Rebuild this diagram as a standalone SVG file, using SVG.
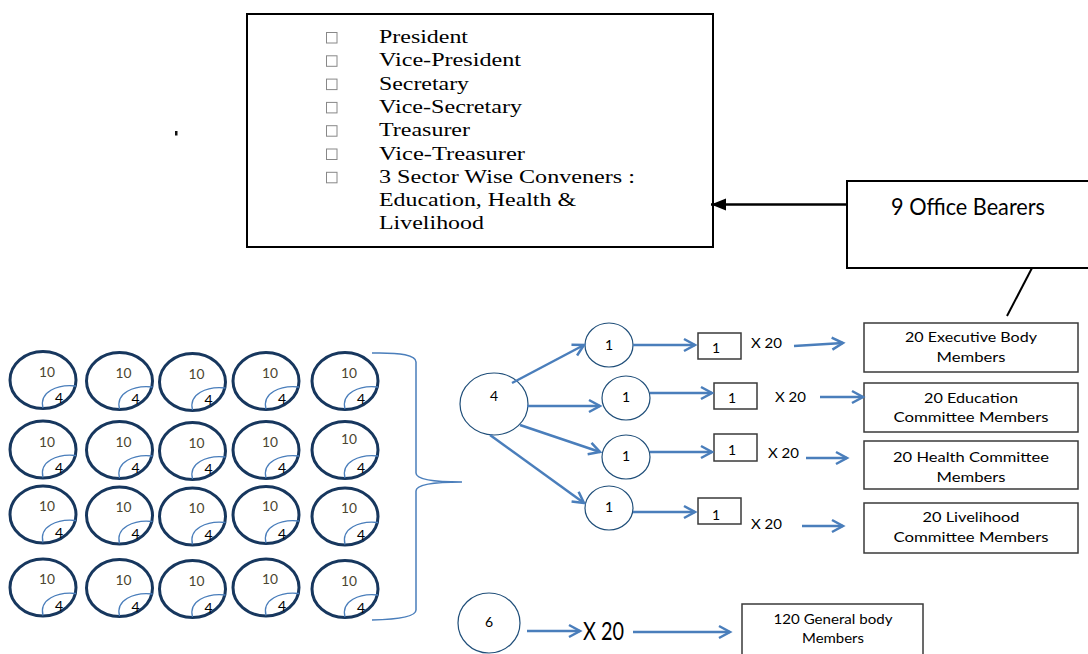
<svg xmlns="http://www.w3.org/2000/svg" xmlns:xlink="http://www.w3.org/1999/xlink" width="1088" height="654" viewBox="0 0 1088 654">
<style>
.serif{font-family:"Liberation Serif","Times New Roman",serif;font-size:19.5px;fill:#000}
.sans{font-family:Lato,"Liberation Sans",Arial,sans-serif;fill:#000}
.box{fill:#fff;stroke:#3a3a3a;stroke-width:1.5}
.bbox{fill:#fff;stroke:#000;stroke-width:2}
.cellc{fill:none;stroke:#17375e;stroke-width:3}
.cella{fill:none;stroke:#4a7ebb;stroke-width:1.3}
.node{fill:#fff;stroke:#1f4e79;stroke-width:1.2}
.blue{fill:none;stroke:#4a7ebb;stroke-width:2.5}
.bul{fill:none;stroke:#888;stroke-width:1}
.t10{font-family:Lato,"Liberation Sans",Arial,sans-serif;font-size:13.5px;fill:#4a4530;text-anchor:middle}
.t4{font-family:Lato,"Liberation Sans",Arial,sans-serif;font-size:14px;fill:#000;text-anchor:middle}
.lbl{font-family:Lato,"Liberation Sans",Arial,sans-serif;font-size:13px;fill:#000;text-anchor:middle}
.num{font-family:Lato,"Liberation Sans",Arial,sans-serif;font-size:14px;fill:#000;text-anchor:middle}
</style>
<defs>
<marker id="ba" markerUnits="userSpaceOnUse" markerWidth="16" markerHeight="16" refX="13" refY="8" orient="auto"><path d="M2,2 L13,8 L2,14" fill="none" stroke="#4a7ebb" stroke-width="2.5"/></marker>
<marker id="ka" markerUnits="userSpaceOnUse" markerWidth="16" markerHeight="14" refX="15" refY="6" orient="auto"><path d="M0,0 L15,6 L0,12 z" fill="#000"/></marker>
<g id="cell"><ellipse cx="0" cy="0" rx="33" ry="28.5" class="cellc"/><path d="M0,28 C-4,12 14,4 33,6" class="cella"/></g>
</defs>
<rect width="1088" height="654" fill="#fff"/>

<g id="office-list">
<rect x="247" y="14" width="466" height="233" class="bbox"/>
<g>
<rect x="326.5" y="32.5" width="10.5" height="10.5" class="bul"/>
<rect x="326.5" y="55.8" width="10.5" height="10.5" class="bul"/>
<rect x="326.5" y="79.1" width="10.5" height="10.5" class="bul"/>
<rect x="326.5" y="102.4" width="10.5" height="10.5" class="bul"/>
<rect x="326.5" y="125.7" width="10.5" height="10.5" class="bul"/>
<rect x="326.5" y="149" width="10.5" height="10.5" class="bul"/>
<rect x="326.5" y="172.3" width="10.5" height="10.5" class="bul"/>
</g>
<text class="serif" x="379" y="43" textLength="89" lengthAdjust="spacingAndGlyphs">President</text>
<text class="serif" x="379" y="66.3" textLength="142" lengthAdjust="spacingAndGlyphs">Vice-President</text>
<text class="serif" x="379" y="89.6" textLength="90" lengthAdjust="spacingAndGlyphs">Secretary</text>
<text class="serif" x="379" y="112.9" textLength="143" lengthAdjust="spacingAndGlyphs">Vice-Secretary</text>
<text class="serif" x="379" y="136.2" textLength="91" lengthAdjust="spacingAndGlyphs">Treasurer</text>
<text class="serif" x="379" y="159.5" textLength="146" lengthAdjust="spacingAndGlyphs">Vice-Treasurer</text>
<text class="serif" x="379" y="182.8" textLength="256" lengthAdjust="spacingAndGlyphs">3 Sector Wise Conveners :</text>
<text class="serif" x="379" y="206.1" textLength="197" lengthAdjust="spacingAndGlyphs">Education, Health &amp;</text>
<text class="serif" x="379" y="229.4" textLength="105" lengthAdjust="spacingAndGlyphs">Livelihood</text>
</g>

<g id="dot"><rect x="175" y="131" width="2.5" height="4.5" fill="#111"/></g>

<g id="office-bearers">
<rect x="847" y="181" width="242" height="87" class="bbox"/>
<text class="sans" x="891" y="215" font-size="22.5" textLength="154" lengthAdjust="spacingAndGlyphs">9 Office Bearers</text>
</g>

<g id="grid">
<g id="c11"><use xlink:href="#cell" x="43" y="380"/><text class="t10" x="47" y="377" textLength="16" lengthAdjust="spacingAndGlyphs">10</text><text class="t4" x="59" y="403">4</text></g>
<g id="c12"><use xlink:href="#cell" x="119.5" y="381"/><text class="t10" x="123.5" y="378" textLength="16" lengthAdjust="spacingAndGlyphs">10</text><text class="t4" x="135.5" y="404">4</text></g>
<g id="c13"><use xlink:href="#cell" x="192.5" y="382"/><text class="t10" x="196.5" y="379" textLength="16" lengthAdjust="spacingAndGlyphs">10</text><text class="t4" x="208.5" y="405">4</text></g>
<g id="c14"><use xlink:href="#cell" x="266" y="381"/><text class="t10" x="270" y="378" textLength="16" lengthAdjust="spacingAndGlyphs">10</text><text class="t4" x="282" y="404">4</text></g>
<g id="c15"><use xlink:href="#cell" x="345" y="381"/><text class="t10" x="349" y="378" textLength="16" lengthAdjust="spacingAndGlyphs">10</text><text class="t4" x="361" y="404">4</text></g>

<g id="c21"><use xlink:href="#cell" x="43" y="449.5"/><text class="t10" x="47" y="446.5" textLength="16" lengthAdjust="spacingAndGlyphs">10</text><text class="t4" x="59" y="472.5">4</text></g>
<g id="c22"><use xlink:href="#cell" x="119.5" y="450"/><text class="t10" x="123.5" y="447" textLength="16" lengthAdjust="spacingAndGlyphs">10</text><text class="t4" x="135.5" y="473">4</text></g>
<g id="c23"><use xlink:href="#cell" x="192.5" y="451"/><text class="t10" x="196.5" y="448" textLength="16" lengthAdjust="spacingAndGlyphs">10</text><text class="t4" x="208.5" y="474">4</text></g>
<g id="c24"><use xlink:href="#cell" x="266" y="450"/><text class="t10" x="270" y="447" textLength="16" lengthAdjust="spacingAndGlyphs">10</text><text class="t4" x="282" y="473">4</text></g>
<g id="c25"><use xlink:href="#cell" x="345" y="450"/><text class="t10" x="349" y="444" textLength="16" lengthAdjust="spacingAndGlyphs">10</text><text class="t4" x="361" y="473">4</text></g>

<g id="c31"><use xlink:href="#cell" x="43" y="514.5"/><text class="t10" x="47" y="511" textLength="16" lengthAdjust="spacingAndGlyphs">10</text><text class="t4" x="59" y="538">4</text></g>
<g id="c32"><use xlink:href="#cell" x="119.5" y="515.5"/><text class="t10" x="123.5" y="512" textLength="16" lengthAdjust="spacingAndGlyphs">10</text><text class="t4" x="135.5" y="539">4</text></g>
<g id="c33"><use xlink:href="#cell" x="192.5" y="516.5"/><text class="t10" x="196.5" y="513" textLength="16" lengthAdjust="spacingAndGlyphs">10</text><text class="t4" x="208.5" y="540">4</text></g>
<g id="c34"><use xlink:href="#cell" x="266" y="515"/><text class="t10" x="270" y="511" textLength="16" lengthAdjust="spacingAndGlyphs">10</text><text class="t4" x="282" y="539">4</text></g>
<g id="c35"><use xlink:href="#cell" x="345" y="516.5"/><text class="t10" x="349" y="513" textLength="16" lengthAdjust="spacingAndGlyphs">10</text><text class="t4" x="361" y="540">4</text></g>

<g id="c41"><use xlink:href="#cell" x="43" y="587.5"/><text class="t10" x="47" y="584" textLength="16" lengthAdjust="spacingAndGlyphs">10</text><text class="t4" x="59" y="611">4</text></g>
<g id="c42"><use xlink:href="#cell" x="119.5" y="588"/><text class="t10" x="123.5" y="585" textLength="16" lengthAdjust="spacingAndGlyphs">10</text><text class="t4" x="135.5" y="612">4</text></g>
<g id="c43"><use xlink:href="#cell" x="192.5" y="589"/><text class="t10" x="196.5" y="586" textLength="16" lengthAdjust="spacingAndGlyphs">10</text><text class="t4" x="208.5" y="613">4</text></g>
<g id="c44"><use xlink:href="#cell" x="266" y="587.5"/><text class="t10" x="270" y="584" textLength="16" lengthAdjust="spacingAndGlyphs">10</text><text class="t4" x="282" y="611">4</text></g>
<g id="c45"><use xlink:href="#cell" x="345" y="589"/><text class="t10" x="349" y="586" textLength="16" lengthAdjust="spacingAndGlyphs">10</text><text class="t4" x="361" y="613">4</text></g>
</g>

<g id="brace"><path d="M372,353 Q416,352 416,362 L416,473 Q416,482 462,482 Q416,482 416,491 L416,610 Q416,619 372,620" fill="none" stroke="#4a7ebb" stroke-width="1.5"/></g>

<g id="n4"><ellipse cx="494" cy="404" rx="34" ry="31" class="node"/><text class="num" x="494" y="401">4</text></g>
<g id="n1a"><ellipse cx="609" cy="345" rx="24" ry="22" class="node"/><text class="num" x="609" y="350">1</text></g>
<g id="n1b"><ellipse cx="626" cy="398" rx="24" ry="22" class="node"/><text class="num" x="626" y="402">1</text></g>
<g id="n1c"><ellipse cx="626" cy="457" rx="24" ry="22" class="node"/><text class="num" x="626" y="461">1</text></g>
<g id="n1d"><ellipse cx="609" cy="508" rx="24" ry="22" class="node"/><text class="num" x="609" y="512">1</text></g>

<g id="b1a"><rect x="698" y="333" width="43" height="26" class="box"/><text class="num" x="716" y="353">1</text></g>
<g id="b1b"><rect x="714" y="383" width="43" height="26" class="box"/><text class="num" x="732" y="403">1</text></g>
<g id="b1c"><rect x="714" y="434" width="43" height="27" class="box"/><text class="num" x="732" y="455">1</text></g>
<g id="b1d"><rect x="698" y="498" width="43" height="26" class="box"/><text class="num" x="716" y="520">1</text></g>

<g id="x20-labels">
<text class="sans" x="751" y="348" font-size="12.5" textLength="31" lengthAdjust="spacingAndGlyphs">X 20</text>
<text class="sans" x="775" y="402" font-size="12.5" textLength="31" lengthAdjust="spacingAndGlyphs">X 20</text>
<text class="sans" x="768" y="458" font-size="12.5" textLength="31" lengthAdjust="spacingAndGlyphs">X 20</text>
<text class="sans" x="751" y="529" font-size="12.5" textLength="31" lengthAdjust="spacingAndGlyphs">X 20</text>
</g>

<g id="exec"><rect x="864" y="323" width="214" height="49" class="box"/><text class="lbl" x="971" y="342" textLength="132" lengthAdjust="spacingAndGlyphs">20 Executive Body</text><text class="lbl" x="971" y="362" textLength="69" lengthAdjust="spacingAndGlyphs">Members</text></g>
<g id="edu"><rect x="864" y="383" width="214" height="49" class="box"/><text class="lbl" x="971" y="403" textLength="94" lengthAdjust="spacingAndGlyphs">20 Education</text><text class="lbl" x="971" y="422" textLength="155" lengthAdjust="spacingAndGlyphs">Committee Members</text></g>
<g id="health"><rect x="864" y="441" width="214" height="48" class="box"/><text class="lbl" x="971" y="462" textLength="156" lengthAdjust="spacingAndGlyphs">20 Health Committee</text><text class="lbl" x="971" y="482" textLength="69" lengthAdjust="spacingAndGlyphs">Members</text></g>
<g id="live"><rect x="864" y="503" width="214" height="50" class="box"/><text class="lbl" x="971" y="522" textLength="97" lengthAdjust="spacingAndGlyphs">20 Livelihood</text><text class="lbl" x="971" y="542" textLength="155" lengthAdjust="spacingAndGlyphs">Committee Members</text></g>

<g id="n6"><ellipse cx="489" cy="623" rx="31" ry="30" class="node"/><text class="num" x="489" y="627" font-size="15">6</text></g>
<g id="x20big"><text class="sans" x="583" y="640" font-size="25" textLength="41" lengthAdjust="spacingAndGlyphs">X 20</text></g>
<g id="general"><rect x="742" y="604" width="181" height="52" class="box"/><text class="lbl" x="833" y="624" textLength="119" lengthAdjust="spacingAndGlyphs">120 General body</text><text class="lbl" x="833" y="643" textLength="62" lengthAdjust="spacingAndGlyphs">Members</text></g>

<g id="connectors">
<line x1="847" y1="204.5" x2="711" y2="204.5" stroke="#000" stroke-width="2.5" marker-end="url(#ka)"/>
<line x1="1032" y1="268" x2="1007" y2="316" stroke="#000" stroke-width="2"/>
<line x1="512" y1="383" x2="584" y2="345" class="blue" marker-end="url(#ba)"/>
<line x1="527" y1="406" x2="600" y2="406" class="blue" marker-end="url(#ba)"/>
<line x1="520" y1="425" x2="600" y2="452" class="blue" marker-end="url(#ba)"/>
<line x1="490" y1="435" x2="584" y2="503" class="blue" marker-end="url(#ba)"/>
<line x1="633" y1="345" x2="695" y2="345" class="blue" marker-end="url(#ba)"/>
<line x1="650" y1="393" x2="712" y2="393" class="blue" marker-end="url(#ba)"/>
<line x1="650" y1="452" x2="712" y2="452" class="blue" marker-end="url(#ba)"/>
<line x1="633" y1="512" x2="695" y2="512" class="blue" marker-end="url(#ba)"/>
<line x1="794" y1="346" x2="843" y2="343" class="blue" marker-end="url(#ba)"/>
<line x1="820" y1="397" x2="863" y2="397" class="blue" marker-end="url(#ba)"/>
<line x1="806" y1="458" x2="847" y2="458" class="blue" marker-end="url(#ba)"/>
<line x1="802" y1="526" x2="843" y2="526" class="blue" marker-end="url(#ba)"/>
<line x1="527" y1="631" x2="580" y2="631" class="blue" marker-end="url(#ba)"/>
<line x1="633" y1="632" x2="730" y2="632" class="blue" marker-end="url(#ba)"/>
</g>
</svg>
